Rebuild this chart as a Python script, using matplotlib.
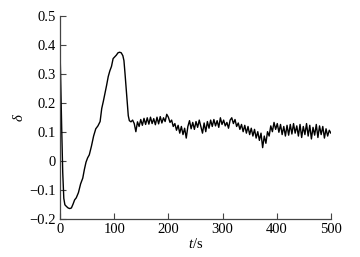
import matplotlib
matplotlib.use("Agg")
import matplotlib.pyplot as plt
import numpy as np

# transient part
t_start = [0, 1, 3, 5, 7, 9, 12, 15, 18, 21, 24, 27, 30, 34, 38, 42, 45, 48,
           51, 54, 58, 62, 66, 70, 74, 77, 80, 83, 86, 89, 92, 95, 98, 101,
           104, 107, 110, 113, 116, 118, 120, 122, 124, 126, 128, 131, 134]
d_start = [0.38, 0.30, 0.12, -0.04, -0.13, -0.152, -0.158, -0.163, -0.165,
           -0.163, -0.15, -0.135, -0.128, -0.11, -0.08, -0.06, -0.03, -0.005,
           0.01, 0.02, 0.05, 0.085, 0.11, 0.12, 0.135, 0.18, 0.205, 0.232,
           0.26, 0.29, 0.31, 0.325, 0.352, 0.358, 0.364, 0.372, 0.374, 0.372,
           0.362, 0.345, 0.30, 0.25, 0.20, 0.155, 0.138, 0.134, 0.14]

# oscillating part
t_osc = [137, 140, 143, 146, 149, 152, 155, 158, 161, 164, 167, 170, 173,
         176, 179, 182, 185, 188, 191, 194, 197, 200, 203, 206, 209, 212,
         215, 218, 221, 224, 227, 230, 233, 236, 239, 242, 245, 248, 251,
         254, 257, 260, 263, 266, 269, 272, 275, 278, 281, 284, 287, 290,
         293, 296, 299, 302, 305, 308, 311, 314, 317, 320, 323, 326, 329,
         332, 335, 338, 341, 344, 347, 350, 353, 356, 359, 362, 365, 368,
         371, 374, 377, 380, 383, 386, 389, 392, 395, 398, 401, 404, 407,
         410, 413, 416, 419, 422, 425, 428, 431, 434, 437, 440, 443, 446,
         449, 452, 455, 458, 461, 464, 467, 470, 473, 476, 479, 482, 485,
         488, 491, 494, 497, 500]
d_osc = [0.128, 0.100, 0.134, 0.118, 0.142, 0.122, 0.146, 0.125, 0.148,
         0.126, 0.150, 0.128, 0.145, 0.124, 0.150, 0.127, 0.152, 0.130,
         0.148, 0.135, 0.160, 0.150, 0.132, 0.140, 0.118, 0.128, 0.105,
         0.122, 0.095, 0.118, 0.090, 0.112, 0.078, 0.118, 0.138, 0.110,
         0.132, 0.108, 0.135, 0.115, 0.140, 0.118, 0.095, 0.130, 0.100,
         0.135, 0.112, 0.140, 0.118, 0.142, 0.120, 0.138, 0.115, 0.148,
         0.125, 0.140, 0.120, 0.132, 0.112, 0.140, 0.148, 0.128, 0.142,
         0.118, 0.130, 0.108, 0.125, 0.100, 0.122, 0.095, 0.118, 0.090,
         0.112, 0.085, 0.108, 0.078, 0.100, 0.070, 0.095, 0.045, 0.085,
         0.060, 0.100, 0.085, 0.120, 0.100, 0.132, 0.108, 0.128, 0.098,
         0.125, 0.090, 0.118, 0.085, 0.122, 0.088, 0.125, 0.092, 0.128,
         0.095, 0.120, 0.085, 0.125, 0.080, 0.118, 0.090, 0.128, 0.085,
         0.122, 0.075, 0.115, 0.088, 0.125, 0.080, 0.120, 0.090, 0.118,
         0.078, 0.110, 0.085, 0.105, 0.095]

x_ticks = [0, 100, 200, 300, 400, 500]
y_ticks = [-0.2, -0.1, 0, 0.1, 0.2, 0.3, 0.4, 0.5]
y_tick_labels = ["\u22120.2", "\u22120.1", "0", "0.1", "0.2", "0.3", "0.4", "0.5"]

plt.rcParams["font.family"] = ["Liberation Serif", "DejaVu Serif"]
plt.rcParams["mathtext.fontset"] = "custom"
plt.rcParams["mathtext.it"] = "Liberation Serif:italic"
plt.rcParams["mathtext.rm"] = "Liberation Serif"

t = np.array(t_start + t_osc, dtype=float)
d = np.array(d_start + d_osc, dtype=float)

fig = plt.figure(figsize=(3.6, 2.57), dpi=100, facecolor="white")
ax = fig.add_axes([0.1667, 0.149, 0.7525, 0.79])

ax.plot(t, d, color="black", linewidth=1.0)

ax.set_xlim(0, 500)
ax.set_ylim(-0.2, 0.5)
ax.set_xticks(x_ticks)
ax.set_xticklabels([str(v) for v in x_ticks])
ax.set_yticks(y_ticks)
ax.set_yticklabels(y_tick_labels)

for side in ["top", "right"]:
    ax.spines[side].set_visible(False)
for side in ["left", "bottom"]:
    ax.spines[side].set_color("#444444")
    ax.spines[side].set_linewidth(0.9)

ax.tick_params(
    direction="in",
    length=4,
    width=0.8,
    color="#444444",
    labelsize=10.5,
    pad=3,
)

ax.set_xlabel("$t$/s", fontsize=10.5, labelpad=1)
ax.set_ylabel("$\\delta$", fontsize=10.5, labelpad=2)

fig.savefig("out.png", dpi=100, facecolor="white")
